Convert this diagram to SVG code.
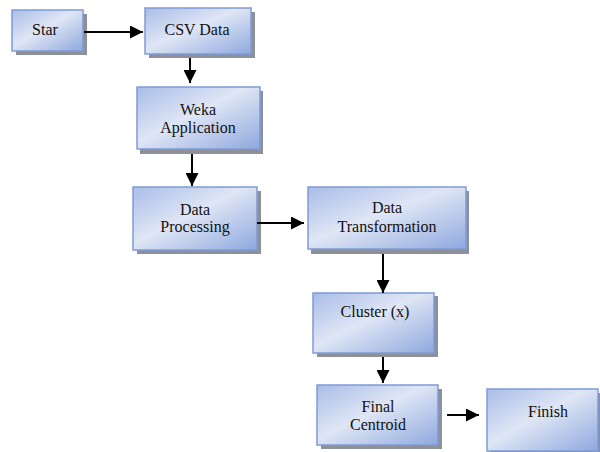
<svg xmlns="http://www.w3.org/2000/svg" width="600" height="452" viewBox="0 0 600 452">
<style>
.box{fill:url(#g);stroke:#7f9bd6;stroke-width:1.5}
.sh{fill:#8c9099}
.t{font-family:'Liberation Serif','Times New Roman',serif;font-size:16px;fill:#111;text-anchor:middle}
.c{stroke:#000;stroke-width:2;fill:none;marker-end:url(#a)}
</style>
<defs>
<linearGradient id="g" x1="0" y1="0" x2="1" y2="1">
<stop offset="0" stop-color="#a9bde8"/>
<stop offset="0.45" stop-color="#dfe6f5"/>
<stop offset="1" stop-color="#8ea8de"/>
</linearGradient>
<marker id="a" viewBox="0 0 10 10" refX="10" refY="5" markerWidth="7" markerHeight="6.5" orient="auto" markerUnits="strokeWidth">
<path d="M0,0 L10,5 L0,10 z" fill="#000"/>
</marker>
</defs>
<rect width="600" height="452" fill="#fff"/>
<g id="star"><rect class="sh" x="16" y="14" width="71" height="41"/><rect class="box" x="12" y="10" width="71" height="41"/><text class="t" x="45" y="35">Star</text></g>
<g id="csv"><rect class="sh" x="149" y="12" width="106" height="46"/><rect class="box" x="145" y="8" width="106" height="46"/><text class="t" x="197" y="35">CSV Data</text></g>
<g id="weka"><rect class="sh" x="140" y="91" width="123" height="63"/><rect class="box" x="137" y="87" width="123" height="62"/><text class="t" x="198" y="115">Weka</text><text class="t" x="198" y="133">Application</text></g>
<g id="dp"><rect class="sh" x="137" y="191" width="124" height="63"/><rect class="box" x="133" y="187" width="124" height="63"/><text class="t" x="195" y="215">Data</text><text class="t" x="195" y="232">Processing</text></g>
<g id="dt"><rect class="sh" x="311" y="191" width="158" height="63"/><rect class="box" x="308" y="187" width="158" height="62"/><text class="t" x="387" y="213">Data</text><text class="t" x="387" y="232">Transformation</text></g>
<g id="cluster"><rect class="sh" x="317" y="296" width="121" height="61"/><rect class="box" x="313" y="293" width="121" height="60"/><text class="t" x="375" y="317">Cluster (x)</text></g>
<g id="final"><rect class="sh" x="321" y="389" width="121" height="60"/><rect class="box" x="317" y="385" width="121" height="60"/><text class="t" x="378" y="412">Final</text><text class="t" x="378" y="430">Centroid</text></g>
<g id="finish"><rect class="sh" x="491" y="393" width="112" height="62"/><rect class="box" x="487" y="389" width="111" height="62"/><text class="t" x="548" y="417">Finish</text></g>
<g id="connectors">
<line class="c" x1="84" y1="32" x2="143" y2="32"/>
<line class="c" x1="190" y1="58" x2="190" y2="83"/>
<line class="c" x1="192" y1="154" x2="192" y2="186"/>
<line class="c" x1="257" y1="223" x2="304" y2="223"/>
<line class="c" x1="383" y1="254" x2="383" y2="293"/>
<line class="c" x1="383" y1="357" x2="383" y2="383"/>
<line class="c" x1="447" y1="415" x2="479" y2="415"/>
</g>
</svg>
